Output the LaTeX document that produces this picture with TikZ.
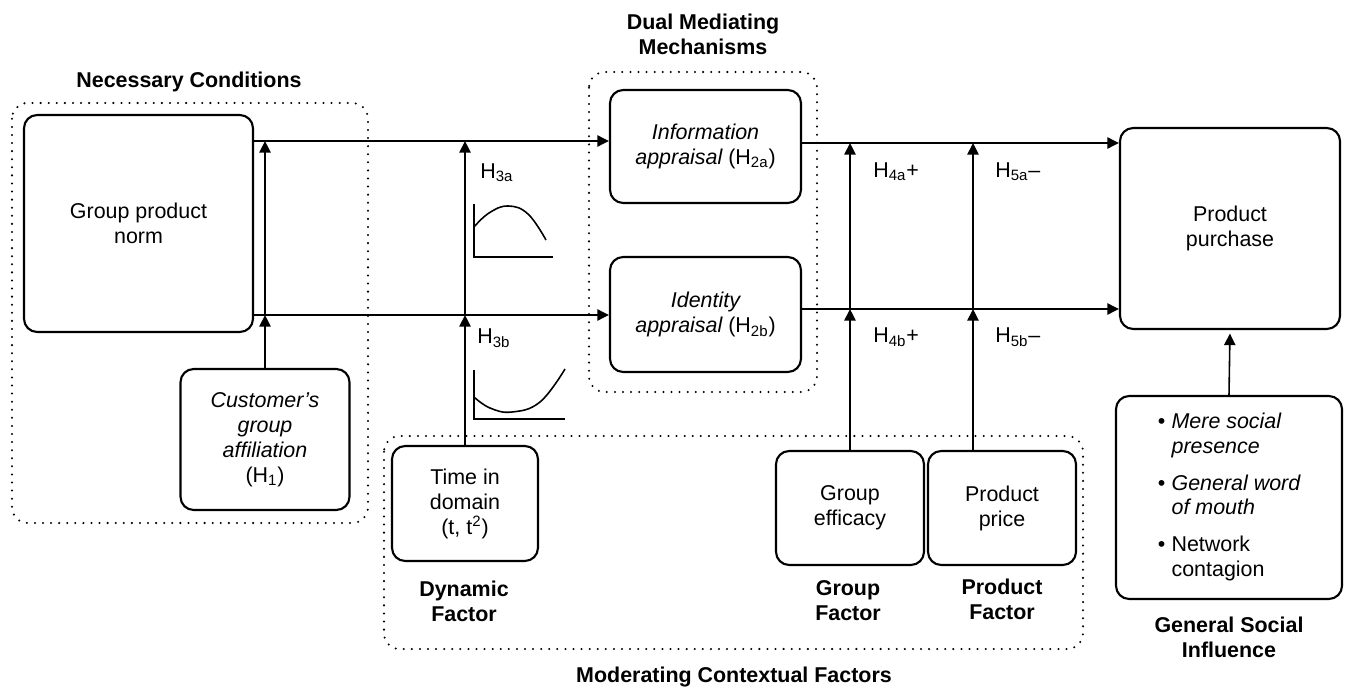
\documentclass[tikz,border=0pt]{standalone}
\usepackage{fontspec}
\setmainfont{Liberation Sans}
\usetikzlibrary{arrows.meta,calc}
\begin{document}
\begin{tikzpicture}[x=0.02cm,y=-0.02cm,
  font=\fontsize{12.2pt}{14.2pt}\selectfont,
  box/.style={draw, line width=1.2pt, rounded corners=7.5pt, align=center, inner sep=0pt},
  arr/.style={-{Triangle[length=6.6pt,width=6.4pt]}, line width=0.9pt},
  grp/.style={line width=1.3pt, dash pattern=on 0pt off 4.6pt, line cap=round, rounded corners=9pt},
  lbl/.style={font=\fontsize{12.2pt}{14.2pt}\selectfont\bfseries, align=center},
  hyp/.style={anchor=west, inner sep=0pt},
  curve/.style={line width=0.9pt}
]
\useasboundingbox (0,0) rectangle (1345,689);

% dotted group frames
\draw[grp] (12,103) rectangle (368,523);
\draw[grp] (589,72) rectangle (817,392);
\draw[grp] (384,436) rectangle (1083,649);

% group labels
\node[lbl] (lnc) at (189,82) {Necessary Conditions};
\node[lbl] (ldm) at (703,34.5) {Dual Mediating\\Mechanisms};
\node[lbl] (ldf) at (464,601) {Dynamic\\Factor};
\node[lbl] (lgf) at (848,600.5) {Group\\Factor};
\node[lbl] (lpf) at (1002,599.5) {Product\\Factor};
\node[lbl] (lmc) at (734,677) {Moderating Contextual Factors};
\node[lbl] (lgs) at (1229,637.5) {General Social\\Influence};

% boxes
\node[box, minimum width=229*0.02cm, minimum height=217*0.02cm] (gpn) at (138.5,223.5) {Group product\\norm};
\node[box, minimum width=169*0.02cm, minimum height=141*0.02cm] (cust) at (265,439.5) {\itshape Customer’s\\\itshape group\\\itshape affiliation\\(H\textsubscript{1})};
\node[box, minimum width=191*0.02cm, minimum height=113*0.02cm] (info) at (705.5,146.5) {\itshape Information\\\itshape appraisal\upshape{} (H\textsubscript{2a})};
\node[box, minimum width=191*0.02cm, minimum height=115*0.02cm] (ident) at (705.5,314.5) {\itshape Identity\\\itshape appraisal\upshape{} (H\textsubscript{2b})};
\node[box, minimum width=220*0.02cm, minimum height=201*0.02cm] (pp) at (1230,228.5) {Product\\purchase};
\node[box, minimum width=146*0.02cm, minimum height=115*0.02cm] (time) at (465,503.5) {Time in\\domain\\(t, t\textsuperscript{2})};
\node[box, minimum width=148*0.02cm, minimum height=114*0.02cm] (ge) at (850,508) {Group\\efficacy};
\node[box, minimum width=148*0.02cm, minimum height=114*0.02cm] (price) at (1002,508) {Product\\price};
\node[box, minimum width=226*0.02cm, minimum height=203*0.02cm] (gsi) at (1229,497.5) {%
  \begin{tabular}{@{}l@{\hspace{3.6pt}}l@{}}
  \textbullet & \itshape Mere social\\
   & \itshape presence\\[6.6pt]
  \textbullet & \itshape General word\\
   & \itshape of mouth\\[6.6pt]
  \textbullet & Network\\
   & contagion
  \end{tabular}};

% reference coordinates for connector levels
\coordinate (yA) at (0,141);
\coordinate (yB) at (0,315);
\coordinate (yC) at (0,143);
\coordinate (yD) at (0,309);
\coordinate (xP) at (973,0);

% main paths
\draw[arr] (gpn.east |- yA) -- (info.west |- yA);
\draw[arr] (gpn.east |- yB) -- (ident.west |- yB);
\draw[arr] (info.east |- yC) -- (pp.west |- yC);
\draw[arr] (ident.east |- yD) -- (pp.west |- yD);

% moderator arrows
\draw[arr] (cust.north) -- (cust.north |- yB);
\draw[arr] (cust.north |- yB) -- (cust.north |- yA);
\draw[arr] (time.north) -- (time.north |- yB);
\draw[arr] (time.north |- yB) -- (time.north |- yA);
\draw[arr] (ge.north) -- (ge.north |- yD);
\draw[arr] (ge.north |- yD) -- (ge.north |- yC);
\draw[arr] (price.north -| xP) -- (xP |- yD);
\draw[arr] (xP |- yD) -- (xP |- yC);
\draw[arr, shorten >=2pt] (gsi.north) -- (pp.south);

% hypothesis labels
\node[hyp] (h3a) at (480,173) {H\textsubscript{3a}};
\node[hyp] (h3b) at (477,338) {H\textsubscript{3b}};
\node[hyp] (h4a) at (873,172) {H\textsubscript{4a}+};
\node[hyp] (h5a) at (995,172) {H\textsubscript{5a}–};
\node[hyp] (h4b) at (873,337) {H\textsubscript{4b}+};
\node[hyp] (h5b) at (995,337) {H\textsubscript{5b}–};

% small curve sketches
\draw[curve] (474,204) -- (474,257) -- (553,257);
\draw[curve] plot[smooth, tension=0.7] coordinates {(474,227) (489,213) (508,206) (528,214) (546,240)};
\draw[curve] (474,370) -- (474,419) -- (565,419);
\draw[curve] plot[smooth, tension=0.7] coordinates {(474,397) (490,408) (512,412) (540,402) (565,369)};
\end{tikzpicture}
\end{document}
